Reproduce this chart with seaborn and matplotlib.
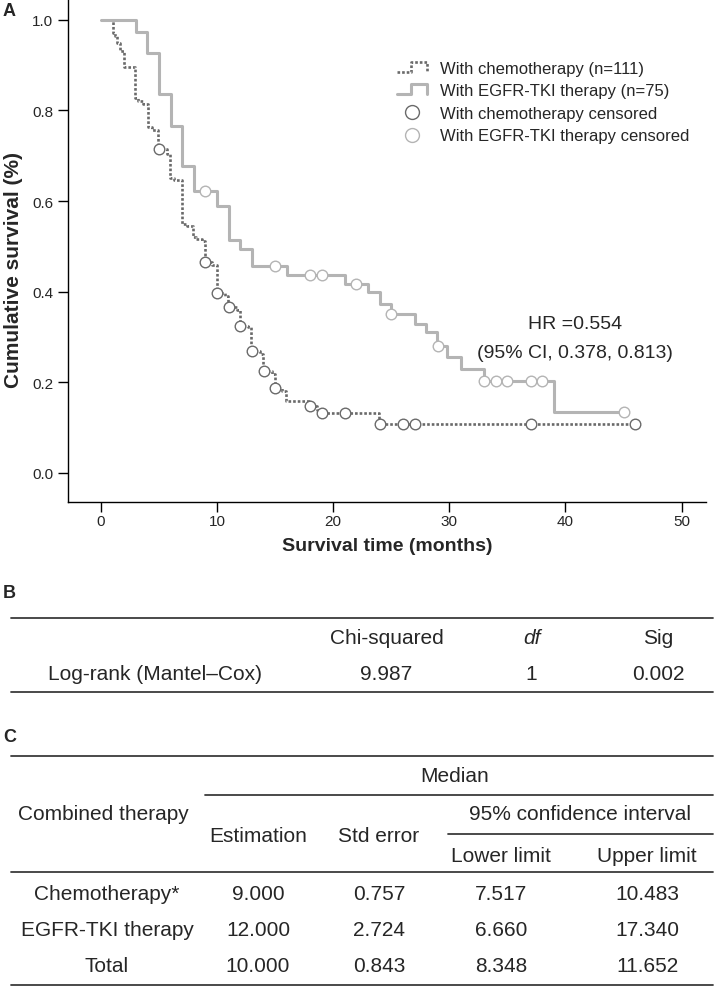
import numpy as np
import pandas as pd
import matplotlib.pyplot as plt
from matplotlib.lines import Line2D
from matplotlib.legend_handler import HandlerLine2D
import seaborn as sns

# Kaplan-Meier steps (months, survival after each step)
chemo_times = [0, 1.0, 1.2, 1.35, 1.65, 1.95, 2.95, 3.2, 3.6, 4.05, 4.4, 4.95, 5.65, 5.95, 6.3,
               6.95, 7.4, 7.95, 8.2, 8.7, 8.95, 9.6, 9.95, 10.7, 10.95, 11.7, 11.95, 12.7, 12.95,
               13.7, 13.95, 14.7, 14.95, 15.6, 15.95, 17.95, 18.6, 18.95, 23.95]
chemo_surv = [1.0, 0.972, 0.964, 0.950, 0.932, 0.896, 0.827, 0.820, 0.815, 0.763, 0.757, 0.716,
              0.704, 0.650, 0.646, 0.550, 0.546, 0.521, 0.516, 0.512, 0.465, 0.459, 0.398, 0.390,
              0.367, 0.360, 0.324, 0.322, 0.270, 0.262, 0.226, 0.218, 0.188, 0.180, 0.159, 0.147,
              0.140, 0.132, 0.108]
chemo_censor = [5, 9, 10, 11, 12, 13, 14, 15, 18, 19, 21, 24, 26, 27, 37, 46]

egfr_times = [0, 3, 4, 5, 6, 7, 8, 10, 11, 12, 13, 16, 21, 23, 24, 25, 27, 28, 28.9, 29.8, 31, 33, 39]
egfr_surv = [1.0, 0.973, 0.927, 0.837, 0.766, 0.677, 0.622, 0.589, 0.515, 0.494, 0.457, 0.438,
             0.418, 0.399, 0.373, 0.351, 0.329, 0.311, 0.281, 0.256, 0.230, 0.204, 0.134]
egfr_censor = [9, 15, 18, 19, 22, 25, 29, 33, 34, 35, 37, 38, 45]

legend_labels = ["With chemotherapy (n=111)", "With EGFR-TKI therapy (n=75)",
                 "With chemotherapy censored", "With EGFR-TKI therapy censored"]

# tables
logrank_header = ["Chi-squared", "df", "Sig"]
logrank_row = ["Log-rank (Mantel\u2013Cox)", "9.987", "1", "0.002"]
median_groups = ["Chemotherapy*", "EGFR-TKI therapy", "Total"]
median_est = ["9.000", "12.000", "10.000"]
median_se = ["0.757", "2.724", "0.843"]
median_low = ["7.517", "6.660", "8.348"]
median_up = ["10.483", "17.340", "11.652"]

chemo_col = "#6a6a6a"
egfr_col = "#b4b4b4"


def km_frame(times, surv, censor):
    t = list(times) + [max(censor)]
    s = list(surv) + [surv[-1]]
    return pd.DataFrame({"time": t, "surv": s})


def censor_frame(times, surv, censor):
    idx = np.searchsorted(times, censor, side="right") - 1
    return pd.DataFrame({"time": censor, "surv": np.array(surv)[idx]})


class StepHandler(HandlerLine2D):
    # little step icon like the SPSS legend
    def create_artists(self, legend, orig, xdescent, ydescent, width, height, fontsize, trans):
        x0, w = -xdescent, width
        lo, hi = -ydescent + 0.1 * height, -ydescent + 0.95 * height
        line = Line2D([x0, x0 + 0.45 * w, x0 + 0.45 * w, x0 + w, x0 + w],
                      [lo, lo, hi, hi, lo])
        self.update_prop(line, orig, legend)
        line.set_transform(trans)
        return [line]


sns.set_style("ticks")
plt.rcParams["font.family"] = ["Liberation Sans", "DejaVu Sans"]

W, H = 714, 987
fig = plt.figure(figsize=(W / 100, H / 100), dpi=100)

# panel A
ax = fig.add_axes([68 / W, 1 - 503 / H, 638 / W, 503 / H])
sns.lineplot(data=km_frame(chemo_times, chemo_surv, chemo_censor), x="time", y="surv",
             estimator=None, sort=False, drawstyle="steps-post", color=chemo_col,
             lw=1.9, linestyle=(0, (1, 0.75)), ax=ax)
sns.lineplot(data=km_frame(egfr_times, egfr_surv, egfr_censor), x="time", y="surv",
             estimator=None, sort=False, drawstyle="steps-post", color=egfr_col,
             lw=2.2, ax=ax)
sns.scatterplot(data=censor_frame(chemo_times, chemo_surv, chemo_censor), x="time", y="surv",
                s=58, facecolor="white", edgecolor=chemo_col, linewidth=1.0, zorder=5, ax=ax)
sns.scatterplot(data=censor_frame(egfr_times, egfr_surv, egfr_censor), x="time", y="surv",
                s=58, facecolor="white", edgecolor=egfr_col, linewidth=1.0, zorder=5, ax=ax)

ax.set_xlim(-2.84, 52.1)
ax.set_ylim(-0.064, 1.046)
ax.set_xticks(range(0, 51, 10))
ax.set_yticks(np.arange(0, 1.01, 0.2))
ax.set_yticklabels([f"{v:.1f}" for v in np.arange(0, 1.01, 0.2)])
ax.tick_params(direction="out", length=7, width=1, labelsize=11, color="black")
ax.tick_params(axis="y", pad=3.5)
ax.tick_params(axis="x", pad=2)
for sp in ["top", "right"]:
    ax.spines[sp].set_visible(False)
for sp in ["left", "bottom"]:
    ax.spines[sp].set_linewidth(1.0)
    ax.spines[sp].set_color("black")
ax.set_xlabel("Survival time (months)", fontsize=14, fontweight="bold")
ax.set_ylabel("Cumulative survival (%)", fontsize=15, fontweight="bold")
ax.xaxis.set_label_coords(0.5, -0.07)
ax.yaxis.set_label_coords(-0.07, 0.463)

ax.text(40.8, 0.329, "HR =0.554", ha="center", va="center", fontsize=14)
ax.text(40.8, 0.267, "(95% CI, 0.378, 0.813)", ha="center", va="center", fontsize=14)

chemo_h = Line2D([], [], color=chemo_col, lw=1.9, linestyle=(0, (1, 0.75)))
egfr_h = Line2D([], [], color=egfr_col, lw=2.2)
handles = [
    chemo_h,
    egfr_h,
    Line2D([], [], linestyle="none", marker="o", markersize=10, markerfacecolor="white",
           markeredgecolor=chemo_col, markeredgewidth=1.0),
    Line2D([], [], linestyle="none", marker="o", markersize=10, markerfacecolor="white",
           markeredgecolor=egfr_col, markeredgewidth=1.0),
]
ax.legend(handles, legend_labels, loc="upper left", bbox_to_anchor=(0.516, 0.877),
          frameon=False, fontsize=12, handlelength=1.8, handletextpad=0.75,
          labelspacing=0.45, borderpad=0, borderaxespad=0,
          handler_map={chemo_h: StepHandler(), egfr_h: StepHandler()})

# panels B and C drawn in pixel coordinates
tx = fig.add_axes([0, 0, 1, 1], zorder=-1)
tx.set_xlim(0, W)
tx.set_ylim(H, 0)
tx.axis("off")

fs = 15
lc = "#3c3c3c"
tx.text(3, 12, "A", fontsize=13, fontweight="bold", va="center")
tx.text(3, 593, "B", fontsize=13, fontweight="bold", va="center")
tx.text(3, 737, "C", fontsize=13, fontweight="bold", va="center")

# table B
tx.plot([11, 713], [619, 619], color=lc, lw=1.3)
tx.plot([11, 713], [693, 693], color=lc, lw=1.3)
for x, s in zip([387, 532, 658], logrank_header):
    tx.text(x, 638, s, ha="center", va="center", fontsize=fs,
            fontstyle="italic" if s == "df" else "normal")
for x, s in zip([155, 386, 531, 658], logrank_row):
    tx.text(x, 674, s, ha="center", va="center", fontsize=fs)

# table C
tx.plot([11, 713], [757, 757], color=lc, lw=1.3)
tx.plot([205, 713], [796, 796], color=lc, lw=1.3)
tx.plot([448, 713], [835, 835], color=lc, lw=1.3)
tx.plot([11, 713], [873, 873], color=lc, lw=1.3)
tx.plot([11, 713], [986, 986], color=lc, lw=1.3)
tx.text(455, 776, "Median", ha="center", va="center", fontsize=fs)
tx.text(103, 815, "Combined therapy", ha="center", va="center", fontsize=fs)
tx.text(580, 815, "95% confidence interval", ha="center", va="center", fontsize=fs)
tx.text(258, 836, "Estimation", ha="center", va="center", fontsize=fs)
tx.text(379, 836, "Std error", ha="center", va="center", fontsize=fs)
tx.text(501, 856, "Lower limit", ha="center", va="center", fontsize=fs)
tx.text(647, 856, "Upper limit", ha="center", va="center", fontsize=fs)
for y, g, e, se, lo, up in zip([894, 930, 967], median_groups, median_est, median_se,
                               median_low, median_up):
    tx.text(107, y, g, ha="center", va="center", fontsize=fs)
    tx.text(258, y, e, ha="center", va="center", fontsize=fs)
    tx.text(379, y, se, ha="center", va="center", fontsize=fs)
    tx.text(501, y, lo, ha="center", va="center", fontsize=fs)
    tx.text(647, y, up, ha="center", va="center", fontsize=fs)

fig.savefig("out.png", dpi=100)
